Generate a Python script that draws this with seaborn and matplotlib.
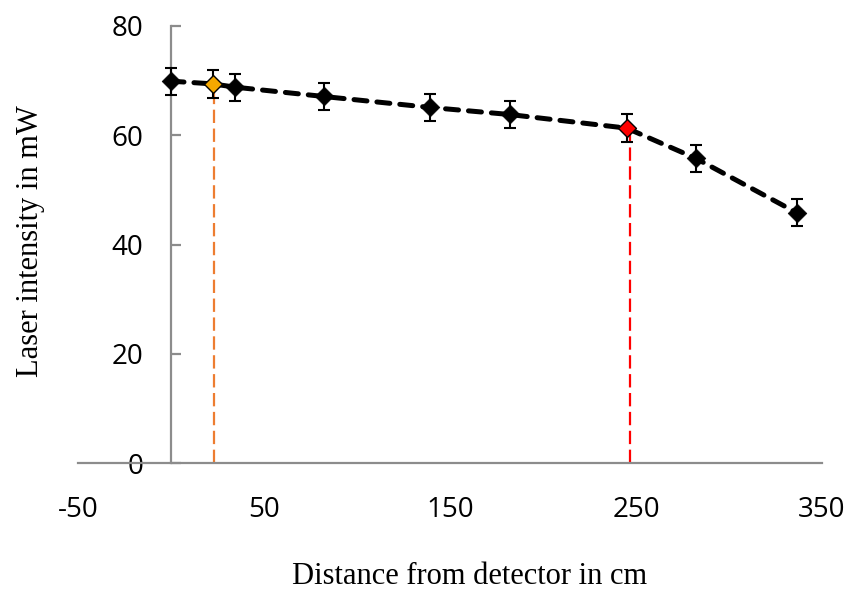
import matplotlib
matplotlib.use("Agg")
import matplotlib.pyplot as plt
import seaborn as sns
import pandas as pd
import numpy as np

distance = [0, 22.5, 34.5, 82, 139, 182, 245, 282, 336.5]
intensity = [69.9, 69.4, 68.8, 67.1, 65.1, 63.8, 61.3, 55.8, 45.8]
error = [2.5] * 9
highlight_idx = [1, 6]
highlight_colors = ["#F5A800", "#FF0000"]
vline_colors = ["#ED7D31", "#FF0000"]
vline_x = [23, 247]
x_ticks = [-50, 50, 150, 250, 350]
y_ticks = [0, 20, 40, 60, 80]

df = pd.DataFrame({"distance": distance, "intensity": intensity})

sns.set_style("white")
plt.rcParams["axes.unicode_minus"] = False
plt.rcParams["text.color"] = "black"
fig = plt.figure(figsize=(8.51, 5.91), dpi=100)
ax = fig.add_axes([78/851, (591-463)/591, 744/851, 437/591])

# vertical dashed lines
for xv, yi, c in zip(vline_x, highlight_idx, vline_colors):
    ax.plot([xv, xv], [0, intensity[yi]], color=c, lw=1.6, ls=(0, (6, 2.5)), zorder=1)

sns.lineplot(data=df, x="distance", y="intensity", ax=ax, color="black",
             linewidth=3.6, marker=None, zorder=2)
line = ax.lines[-1]
line.set_dashes((2.6, 2.0))
line.set_dash_capstyle("round")

ax.errorbar(distance, intensity, yerr=error, fmt="none", ecolor="black",
            elinewidth=1.5, capsize=4.5, capthick=1.5, zorder=3)
sns.scatterplot(data=df, x="distance", y="intensity", ax=ax, marker="D",
                color="black", s=90, edgecolor="black", linewidth=0.5, zorder=4)
for i, c in zip(highlight_idx, highlight_colors):
    ax.scatter([distance[i]], [intensity[i]], marker="D", s=80, color=c,
               edgecolor="black", linewidth=0.8, zorder=5)

ax.set_xlim(-50, 350)
ax.set_ylim(0, 80)
ax.set_xticks(x_ticks)
ax.set_yticks(y_ticks)

for s in ["top", "right"]:
    ax.spines[s].set_visible(False)
ax.spines["left"].set_position(("data", 0))
for s in ["left", "bottom"]:
    ax.spines[s].set_color("#8c8c8c")
    ax.spines[s].set_linewidth(1.6)

ax.tick_params(axis="x", direction="in", length=8, width=1.6, color="#8c8c8c",
               labelsize=20, pad=24, labelcolor="black")
ax.tick_params(axis="y", direction="in", length=7, width=1.6, color="#8c8c8c",
               labelsize=20, pad=20, left=True, labelcolor="black")
for lab in ax.get_xticklabels() + ax.get_yticklabels():
    lab.set_fontfamily("Open Sans")

ax.set_xlabel("")
ax.set_ylabel("")
fig.text(470/851, 1 - 576/591, "Distance from detector in cm", ha="center", va="center",
         fontsize=22, fontfamily="Liberation Serif", color="black")
fig.text(31/851, 1 - 241/591, "Laser intensity in mW", ha="center", va="center",
         rotation=90, fontsize=22, fontfamily="Liberation Serif", color="black")

fig.savefig("out.png", dpi=100)
